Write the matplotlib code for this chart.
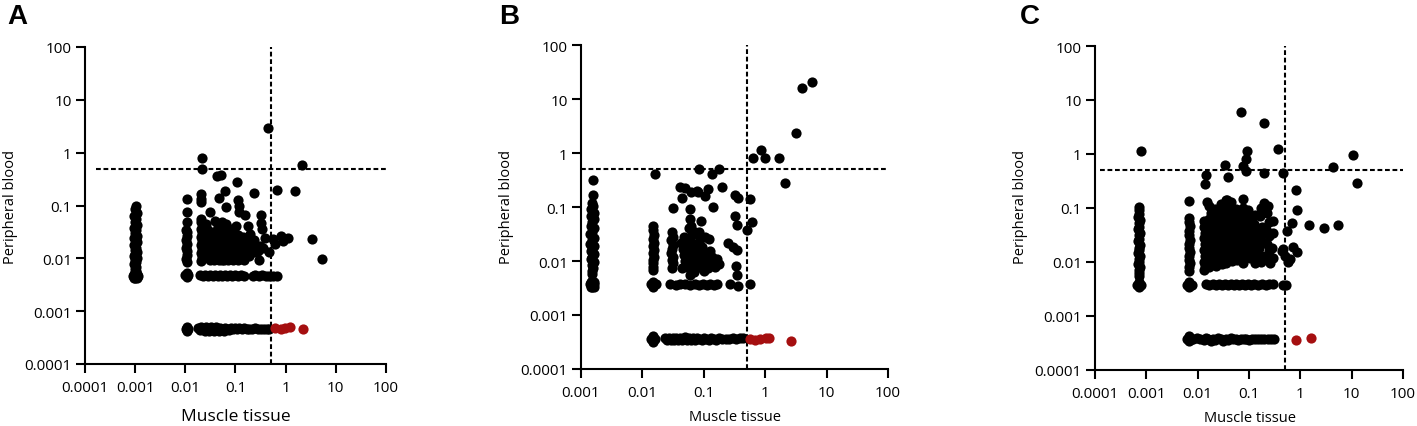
import matplotlib
matplotlib.use("Agg")
import matplotlib.pyplot as plt
from matplotlib.ticker import FixedLocator, NullLocator

plt.rcParams['font.family'] = ['Open Sans', 'DejaVu Sans']

# ---------------- data (x = muscle tissue, y = peripheral blood) ----------------
# Panel A
a_col_001 = [(0.00102,0.1),(0.00097,0.085),(0.00107,0.073),(0.00095,0.064),(0.00106,0.056),(0.00098,0.049),
             (0.00108,0.043),(0.00094,0.038),(0.00105,0.034),(0.00099,0.03),(0.00109,0.027),(0.00094,0.024),
             (0.00103,0.022),(0.0011,0.02),(0.00093,0.018),(0.00105,0.016),(0.00097,0.0145),(0.00109,0.013),
             (0.00101,0.012),(0.00094,0.011),(0.00107,0.0102),(0.00098,0.0093),(0.00105,0.0085),(0.00096,0.0078),
             (0.00106,0.007),(0.00099,0.0063),(0.00103,0.0057),
             (0.00092,0.0046),(0.00112,0.0046),(0.001,0.0052),(0.001,0.0042),(0.00094,0.005),(0.0011,0.0042),
             (0.00094,0.0042),(0.0011,0.005)]
a_col_01 = [(0.0106,0.133),(0.0106,0.074),(0.0106,0.048),(0.0105,0.035),(0.0107,0.031),(0.0106,0.026),
            (0.0105,0.022),(0.0107,0.019),(0.0105,0.016),(0.0106,0.0135),(0.0107,0.0115),(0.0105,0.0098),
            (0.0106,0.0085),(0.0098,0.0048),(0.0115,0.0048),(0.0106,0.0053),(0.0106,0.0044)]
a_col_02 = [(0.0212,0.78),(0.0212,0.49),(0.021,0.165),(0.021,0.135),(0.021,0.115),(0.021,0.056),(0.021,0.048),
            (0.021,0.036),(0.0215,0.03),(0.021,0.025),(0.0212,0.021),(0.0208,0.0175),(0.0212,0.015),
            (0.021,0.0125),(0.0212,0.0105),(0.021,0.009)]
a_scatter = [(0.042,0.357),(0.051,0.37),(0.105,0.275),(0.235,0.17),(0.062,0.19),(0.66,0.2),(1.5,0.19),
             (2.1,0.58),(0.44,2.9),(0.046,0.137),(0.11,0.129),(0.115,0.097),(0.12,0.074),(0.064,0.093),
             (0.031,0.074),(0.153,0.065),(0.32,0.065),(0.32,0.047),(0.33,0.036),(0.039,0.052),(0.053,0.048),
             (0.066,0.044),(0.104,0.041),(0.18,0.041),(0.195,0.029),(0.55,0.023),(0.62,0.019),(0.8,0.027),
             (0.9,0.021),(1.1,0.024),(0.47,0.013),(3.3,0.023),(5.2,0.0099),(0.29,0.0093)]
a_cloud = [(0.024,0.031),(0.026,0.024),(0.027,0.019),(0.029,0.028),(0.031,0.015),(0.033,0.022),(0.035,0.012),
           (0.037,0.018),(0.039,0.026),(0.041,0.0105),(0.044,0.016),(0.046,0.021),(0.049,0.013),(0.052,0.029),
           (0.055,0.0095),(0.058,0.018),(0.062,0.024),(0.066,0.012),(0.07,0.016),(0.074,0.021),(0.078,0.0098),
           (0.083,0.014),(0.088,0.019),(0.093,0.026),(0.1,0.012),(0.106,0.017),(0.113,0.022),(0.12,0.0098),
           (0.128,0.015),(0.137,0.019),(0.147,0.013),(0.158,0.017),(0.17,0.021),(0.183,0.011),(0.197,0.015),
           (0.215,0.018),(0.235,0.013),(0.255,0.017),(0.28,0.014),(0.31,0.017),(0.35,0.016),(0.39,0.024),
           (0.026,0.0105),(0.031,0.0093),(0.038,0.0092),(0.047,0.0095),(0.06,0.0093),(0.072,0.0094),
           (0.09,0.0092),(0.11,0.0094),(0.15,0.0095),(0.024,0.0145),(0.028,0.035),(0.035,0.03),(0.043,0.034),
           (0.06,0.032),(0.08,0.03),(0.11,0.028),(0.14,0.025),(0.045,0.04),(0.07,0.037),(0.23,0.022),
           (0.026,0.045)]
a_row_high = [(0.02,0.0048),(0.0225,0.0047),(0.025,0.0048),(0.028,0.0047),(0.031,0.0048),(0.035,0.0047),
              (0.039,0.0048),(0.044,0.0047),(0.049,0.0048),(0.055,0.0047),(0.062,0.0048),(0.069,0.0047),
              (0.077,0.0048),(0.086,0.0047),(0.097,0.0048),(0.11,0.0047),(0.13,0.0048),(0.15,0.0047),
              (0.22,0.0047),(0.25,0.0048),(0.29,0.0047),(0.34,0.0048),(0.4,0.0047),(0.47,0.0047),
              (0.55,0.0047),(0.66,0.0046)]
a_row_low = [(0.0101,0.00046),(0.0115,0.00046),(0.0108,0.0005),(0.0108,0.00042),(0.018,0.00047),
             (0.02,0.00044),(0.021,0.0005),(0.023,0.00046),(0.025,0.00043),(0.026,0.0005),(0.028,0.00046),
             (0.03,0.00043),(0.032,0.0005),(0.034,0.00046),(0.037,0.00043),(0.04,0.0005),(0.043,0.00046),
             (0.046,0.00043),(0.05,0.00049),(0.054,0.00046),(0.058,0.00043),(0.062,0.00048),(0.067,0.00046),
             (0.073,0.00044),(0.08,0.00047),(0.088,0.00045),(0.097,0.00047),(0.107,0.00045),(0.12,0.00047),
             (0.135,0.00045),(0.15,0.00047),(0.17,0.00045),(0.19,0.00046),(0.215,0.00045),(0.245,0.00047),
             (0.28,0.00045),(0.32,0.00046),(0.37,0.00045),(0.42,0.00046),(0.47,0.00046)]
a_red = [(0.62,0.00047),(0.8,0.00046),(0.95,0.00047),(1.2,0.0005),(2.2,0.00046)]

# Panel B
b_col_001 = [(0.00155,0.31),(0.00155,0.17),(0.00152,0.12),(0.00158,0.105),(0.00146,0.09),(0.0016,0.078),
             (0.00145,0.068),(0.00161,0.06),(0.00152,0.052),(0.00143,0.045),(0.00162,0.04),(0.00152,0.035),
             (0.00142,0.031),(0.00163,0.027),(0.00151,0.024),(0.00142,0.021),(0.00162,0.019),(0.00152,0.017),
             (0.00143,0.015),(0.00161,0.0135),(0.00152,0.012),(0.00144,0.0107),(0.0016,0.0095),(0.00151,0.0085),
             (0.00155,0.0075),(0.00152,0.0066),(0.00153,0.0058),
             (0.00142,0.0037),(0.00165,0.0037),(0.00153,0.0042),(0.00153,0.0033),(0.00145,0.0041),
             (0.00161,0.0041),(0.00145,0.0033),(0.00161,0.0033)]
b_col_01 = [(0.0151,0.045),(0.015,0.038),(0.0153,0.03),(0.0148,0.026),(0.0152,0.022),(0.0149,0.019),
            (0.0153,0.016),(0.0148,0.014),(0.0152,0.012),(0.0149,0.0105),(0.0151,0.009),(0.015,0.0078),
            (0.0151,0.0067),(0.0138,0.0037),(0.0165,0.0037),(0.0151,0.0041),(0.0151,0.0033)]
b_col_03 = [(0.03,0.034),(0.031,0.028),(0.029,0.024),(0.031,0.02),(0.03,0.017),(0.029,0.014),(0.031,0.012),
            (0.03,0.0105),(0.031,0.009),(0.03,0.0075)]
b_scatter = [(5.85,20.6),(3.93,15.9),(3.18,2.34),(0.64,0.81),(0.85,1.14),(1.0,0.81),(1.68,0.8),(2.1,0.278),
             (0.016,0.4),(0.085,0.5),(0.134,0.41),(0.18,0.5),(0.041,0.238),(0.049,0.225),(0.063,0.19),
             (0.081,0.19),(0.044,0.145),(0.116,0.215),(0.106,0.163),(0.2,0.23),(0.142,0.1),(0.031,0.095),
             (0.06,0.091),(0.06,0.059),(0.063,0.045),(0.089,0.056),(0.085,0.034),(0.12,0.026),(0.32,0.165),
             (0.36,0.145),(0.32,0.067),(0.35,0.047),(0.56,0.14),(0.62,0.052),(0.5,0.038),(0.25,0.022),
             (0.3,0.018),(0.35,0.016),(0.34,0.0082),(0.35,0.0054),(0.077,0.2),(0.104,0.0275)]
b_cloud = [(0.042,0.022),(0.045,0.017),(0.048,0.013),(0.05,0.01),(0.053,0.0078),(0.056,0.025),(0.059,0.019),
           (0.062,0.015),(0.065,0.012),(0.068,0.0095),(0.071,0.0072),(0.075,0.021),(0.078,0.016),(0.082,0.013),
           (0.086,0.011),(0.09,0.0085),(0.095,0.018),(0.1,0.014),(0.105,0.0115),(0.11,0.0095),(0.118,0.0075),
           (0.125,0.015),(0.135,0.012),(0.145,0.0098),(0.155,0.0078),(0.165,0.011),(0.175,0.0088),
           (0.063,0.029),(0.072,0.034),(0.058,0.04),(0.088,0.026),(0.044,0.0075),(0.047,0.028),(0.07,0.0062),
           (0.1,0.0065),(0.06,0.0055)]
b_row_high = [(0.028,0.0037),(0.035,0.0036),(0.041,0.0037),(0.05,0.0037),(0.06,0.0036),(0.072,0.0037),
              (0.085,0.0036),(0.098,0.0037),(0.112,0.0036),(0.126,0.0037),(0.145,0.0036),(0.163,0.0037),
              (0.27,0.0037),(0.36,0.0034),(0.57,0.0037)]
b_row_low = [(0.0138,0.00036),(0.0163,0.00036),(0.015,0.0004),(0.015,0.00032),(0.023,0.00037),(0.025,0.00034),
             (0.027,0.00038),(0.029,0.00035),(0.031,0.00037),(0.033,0.00034),(0.035,0.00038),(0.038,0.00035),
             (0.041,0.00038),(0.044,0.00035),(0.047,0.00037),(0.05,0.00039),(0.054,0.00035),(0.058,0.00037),
             (0.062,0.00034),(0.067,0.00037),(0.072,0.00035),(0.078,0.00038),(0.085,0.00036),(0.093,0.00035),
             (0.1,0.00037),(0.11,0.00036),(0.12,0.00035),(0.13,0.00037),(0.145,0.00036),(0.16,0.00035),
             (0.18,0.00037),(0.2,0.00036),(0.23,0.00036),(0.26,0.00036),(0.3,0.00037),(0.34,0.00036),
             (0.39,0.00037),(0.44,0.00037)]
b_red = [(0.57,0.00036),(0.68,0.00035),(0.82,0.00036),(1.03,0.00038),(1.17,0.00038),(2.6,0.00033)]

# Panel C
c_col_001 = [(0.00072,0.103),(0.00071,0.09),(0.00073,0.078),(0.0007,0.068),(0.00074,0.06),(0.00071,0.052),
             (0.00073,0.045),(0.0007,0.04),(0.00074,0.035),(0.00071,0.031),(0.00073,0.027),(0.0007,0.024),
             (0.00074,0.021),(0.00071,0.0185),(0.00073,0.0165),(0.0007,0.0145),(0.00074,0.013),(0.00071,0.0115),
             (0.00073,0.0102),(0.0007,0.009),(0.00074,0.008),(0.00071,0.007),(0.00073,0.0062),(0.00072,0.0055),
             (0.00065,0.0038),(0.0008,0.0038),(0.00072,0.0043),(0.00072,0.0034)]
c_col_01 = [(0.0069,0.137),(0.0069,0.066),(0.0068,0.055),(0.007,0.046),(0.0069,0.037),(0.0068,0.031),
            (0.007,0.026),(0.0069,0.022),(0.0068,0.018),(0.007,0.015),(0.0069,0.0128),(0.0068,0.011),
            (0.007,0.0095),(0.0069,0.0082),(0.0069,0.0068),
            (0.0062,0.0038),(0.0076,0.0038),(0.0069,0.0043),(0.0069,0.0034)]
c_scatter = [(0.069,5.9),(0.2,3.7),(0.00079,1.12),(0.36,1.24),(0.093,1.12),(0.086,0.81),(0.075,0.61),
             (0.086,0.49),(0.034,0.63),(0.039,0.38),(0.2,0.44),(0.46,0.45),(0.0145,0.4),(0.014,0.28),
             (4.28,0.58),(10.8,0.96),(12.5,0.29),(0.82,0.215),(0.88,0.093),(0.68,0.053),(1.47,0.048),
             (2.93,0.043),(5.5,0.048),(0.54,0.037),(0.015,0.13),(0.037,0.14),(0.078,0.145),(0.2,0.124),
             (0.097,0.09),(0.057,0.095),(0.46,0.0175),(0.72,0.019),(0.63,0.0113),(0.5,0.013),(0.57,0.0101),
             (0.43,0.0162),(0.85,0.0155),(0.3,0.058),(0.3,0.035)]
c_cloud = [(0.013,0.058),(0.0135,0.045),(0.014,0.035),(0.0135,0.028),(0.014,0.022),(0.0135,0.017),(0.014,0.013),
           (0.0135,0.01),(0.014,0.0085),(0.0135,0.0072),
           (0.017,0.11),(0.018,0.08),(0.017,0.062),(0.019,0.05),(0.018,0.04),(0.017,0.033),(0.019,0.027),
           (0.018,0.021),(0.017,0.016),(0.019,0.012),(0.018,0.0095),(0.017,0.008),
           (0.022,0.095),(0.023,0.07),(0.022,0.055),(0.024,0.043),(0.023,0.034),(0.022,0.027),(0.024,0.021),
           (0.023,0.016),(0.022,0.013),(0.024,0.0105),(0.023,0.0085),
           (0.028,0.12),(0.029,0.08),(0.03,0.06),(0.028,0.047),(0.03,0.037),(0.029,0.029),(0.028,0.023),
           (0.03,0.018),(0.029,0.014),(0.028,0.011),(0.03,0.009),
           (0.036,0.14),(0.037,0.1),(0.035,0.075),(0.038,0.055),(0.036,0.042),(0.037,0.032),(0.035,0.025),
           (0.038,0.019),(0.036,0.015),(0.037,0.012),(0.035,0.0095),
           (0.045,0.13),(0.047,0.085),(0.044,0.065),(0.048,0.048),(0.046,0.036),(0.045,0.028),(0.047,0.022),
           (0.044,0.017),(0.048,0.013),(0.046,0.0105),
           (0.057,0.07),(0.06,0.052),(0.058,0.04),(0.061,0.03),(0.059,0.023),(0.057,0.018),(0.06,0.014),
           (0.058,0.011),
           (0.078,0.1),(0.072,0.075),(0.08,0.058),(0.076,0.044),(0.073,0.034),(0.079,0.026),(0.075,0.02),
           (0.08,0.015),(0.074,0.012),(0.078,0.0095),
           (0.1,0.065),(0.095,0.048),(0.105,0.037),(0.098,0.028),(0.102,0.021),(0.096,0.016),(0.104,0.012),
           (0.13,0.075),(0.125,0.05),(0.135,0.036),(0.13,0.027),(0.14,0.02),(0.128,0.015),(0.135,0.0115),
           (0.13,0.0095),
           (0.17,0.1),(0.165,0.07),(0.18,0.045),(0.17,0.033),(0.175,0.024),(0.16,0.018),(0.18,0.013),(0.17,0.01),
           (0.23,0.11),(0.22,0.08),(0.24,0.056),(0.21,0.04),(0.25,0.03),(0.22,0.022),(0.24,0.016),(0.21,0.012),
           (0.26,0.0095),(0.28,0.018),(0.29,0.012)]
c_row_high = [(0.0145,0.0039),(0.017,0.0038),(0.02,0.0039),(0.023,0.0038),(0.026,0.0039),(0.03,0.0038),
              (0.034,0.0039),(0.039,0.0038),(0.044,0.0039),(0.05,0.0038),(0.057,0.0039),(0.065,0.0038),
              (0.074,0.0039),(0.084,0.0038),(0.095,0.0039),(0.108,0.0038),(0.125,0.0039),(0.15,0.0038),
              (0.18,0.0039),(0.21,0.0038),(0.25,0.0039),(0.3,0.0039),(0.46,0.0038),(0.52,0.0037)]
c_row_low = [(0.0062,0.00038),(0.0076,0.00038),(0.0069,0.00043),(0.0069,0.00034),(0.0082,0.00037),
             (0.0095,0.00039),(0.011,0.00037),(0.013,0.00036),(0.0145,0.00039),(0.016,0.00037),(0.018,0.00035),
             (0.02,0.00038),(0.022,0.00036),(0.025,0.00039),(0.028,0.00037),(0.031,0.00035),(0.035,0.00038),
             (0.039,0.00036),(0.044,0.00039),(0.049,0.00037),(0.055,0.00038),(0.062,0.00036),(0.07,0.00038),
             (0.079,0.00037),(0.089,0.00038),(0.1,0.00036),(0.115,0.00038),(0.13,0.00037),(0.15,0.00038),
             (0.17,0.00037),(0.2,0.00038),(0.23,0.00037),(0.27,0.00038),(0.31,0.00037)]
c_red = [(0.82,0.00036),(1.63,0.00039)]

panel_letters = ["A", "B", "C"]
x_label = "Muscle tissue"
y_label = "Peripheral blood"
cutoff = 0.5
x_ticks = [[0.0001, 0.001, 0.01, 0.1, 1, 10, 100],
           [0.001, 0.01, 0.1, 1, 10, 100],
           [0.0001, 0.001, 0.01, 0.1, 1, 10, 100]]
x_ticklabels = [["0.0001", "0.001", "0.01", "0.1", "1", "10", "100"],
                ["0.001", "0.01", "0.1", "1", "10", "100"],
                ["0.0001", "0.001", "0.01", "0.1", "1", "10", "100"]]
y_ticks = [0.0001, 0.001, 0.01, 0.1, 1, 10, 100]
y_ticklabels = ["0.0001", "0.001", "0.01", "0.1", "1", "10", "100"]

black_sets = [a_col_001 + a_col_01 + a_col_02 + a_scatter + a_cloud + a_row_high + a_row_low,
              b_col_001 + b_col_01 + b_col_03 + b_scatter + b_cloud + b_row_high + b_row_low,
              c_col_001 + c_col_01 + c_scatter + c_cloud + c_row_high + c_row_low]
red_sets = [a_red, b_red, c_red]

# ---------------- layout ----------------
W, H = 1417, 427
fig = plt.figure(figsize=(W / 100, H / 100), dpi=100)

ax_px = [(85, 48, 386, 365), (581, 46, 888, 370), (1095, 47, 1403, 371)]
hline_start = [0.037, 0.0, 0.016]
letter_px = [(7, 4), (499, 4), (1020, 4)]
ylab_px = [(11, 207), (506, 207), (1021, 207)]
xlab_px = [(236, 417), (735, 418), (1250, 419)]
xlab_size = [12.5, 10.5, 10.5]
red_color = "#A50F10"
marker_area = 54

for i in range(3):
    l, t, r, b = ax_px[i]
    ax = fig.add_axes([l / W, (H - b) / H, (r - l) / W, (b - t) / H])
    ax.set_xscale('log')
    ax.set_yscale('log')
    ax.set_xlim(x_ticks[i][0], x_ticks[i][-1])
    ax.set_ylim(y_ticks[0], y_ticks[-1])
    ax.xaxis.set_major_locator(FixedLocator(x_ticks[i]))
    ax.set_xticklabels(x_ticklabels[i])
    ax.yaxis.set_major_locator(FixedLocator(y_ticks))
    ax.set_yticklabels(y_ticklabels)
    ax.xaxis.set_minor_locator(NullLocator())
    ax.yaxis.set_minor_locator(NullLocator())
    for s in ['top', 'right']:
        ax.spines[s].set_visible(False)
    for s in ['left', 'bottom']:
        ax.spines[s].set_linewidth(1.5)
    ax.tick_params(axis='both', direction='out', length=6.5, width=1.5, labelsize=11, colors='black')
    ax.tick_params(axis='x', pad=5)
    ax.tick_params(axis='y', pad=3)

    bx = [p[0] for p in black_sets[i]]
    by = [p[1] for p in black_sets[i]]
    ax.scatter(bx, by, s=marker_area, c='black', linewidths=0, zorder=3, clip_on=False)
    rx = [p[0] for p in red_sets[i]]
    ry = [p[1] for p in red_sets[i]]
    ax.scatter(rx, ry, s=marker_area, c=red_color, linewidths=0, zorder=3, clip_on=False)

    ax.axhline(cutoff, xmin=hline_start[i], xmax=1.0, color='black', lw=1.5, ls=(0, (2.3, 1.3)), zorder=2)
    ax.axvline(cutoff, color='black', lw=1.5, ls=(0, (2.3, 1.3)), zorder=2)

    lx, ly = letter_px[i]
    fig.text(lx / W, (H - ly) / H, panel_letters[i], fontsize=20, fontweight='bold',
             family=['Liberation Sans', 'DejaVu Sans'], ha='left', va='top')
    yx, yy = ylab_px[i]
    fig.text(yx / W, (H - yy) / H, y_label, rotation=90, fontsize=10.5, ha='center', va='center')
    xx, xy = xlab_px[i]
    fig.text(xx / W, (H - xy) / H, x_label, fontsize=xlab_size[i], ha='center', va='center')

fig.savefig("out.png", dpi=100)
